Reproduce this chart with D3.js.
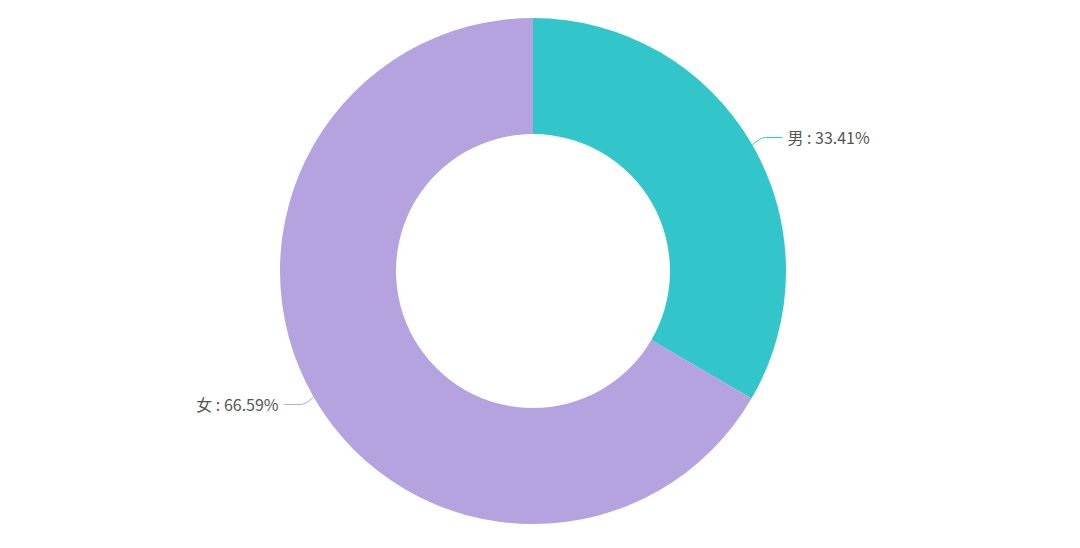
<!DOCTYPE html>
<html><head><meta charset="utf-8">
<script src="https://cdn.jsdelivr.net/npm/d3@7"></script>
<style>html,body{margin:0;padding:0;background:#fff;}svg{display:block;}</style>
</head><body>
<svg id="c" width="1080" height="548"></svg>
<script>
const categories = ["男", "女"];
const values = [33.41, 66.59];
const colors = ["#32c6cb", "#b4a3df"];

const W = 1080, H = 548, cx = 533, cy = 271, rOuter = 253, rInner = 137;
const svg = d3.select("#c");
const g = svg.append("g").attr("transform", `translate(${cx},${cy})`);

const data = categories.map((c, i) => ({ name: c, value: values[i], color: colors[i] }));
const pie = d3.pie().value(d => d.value).sort(null).startAngle(0).endAngle(2 * Math.PI);
const arcs = pie(data);
const arc = d3.arc().innerRadius(rInner).outerRadius(rOuter);

g.selectAll("path.slice").data(arcs).join("path")
  .attr("class", "slice")
  .attr("d", arc)
  .attr("fill", d => d.data.color);

const len1 = 15, len2 = 17;
arcs.forEach(a => {
  const mid = (a.startAngle + a.endAngle) / 2;
  const sx = Math.sin(mid), sy = -Math.cos(mid);
  const p0 = [rOuter * sx, rOuter * sy];
  const p1 = [(rOuter + len1) * sx, (rOuter + len1) * sy];
  const right = sx >= 0;
  const p2 = [p1[0] + (right ? len2 : -len2), p1[1]];
  g.append("path")
    .attr("d", d3.line().curve(d3.curveMonotoneX)([p0, p1, p2].sort((a,b)=>a[0]-b[0])))
    .attr("fill", "none")
    .attr("stroke", a.data.color)
    .attr("stroke-width", 1);
  g.append("text")
    .attr("x", p2[0] + (right ? 5 : -5))
    .attr("y", p2[1] + 1)
    .attr("dy", "0.35em")
    .attr("text-anchor", right ? "start" : "end")
    .attr("font-family", "'Noto Sans CJK SC', 'Noto Sans', sans-serif")
    .attr("font-size", 16)
    .attr("fill", "#555")
    .text(`${a.data.name} : ${a.data.value.toFixed(2)}%`);
});
</script>
</body></html>
